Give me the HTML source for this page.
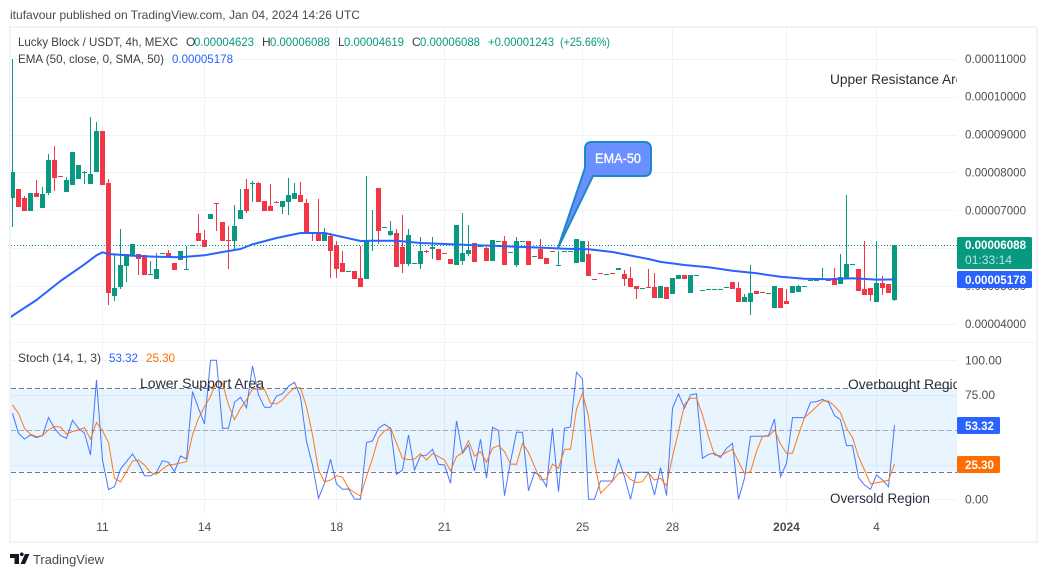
<!DOCTYPE html>
<html lang="en">
<head>
<meta charset="utf-8">
<title>Lucky Block / USDT chart</title>
<style>
html,body{margin:0;padding:0;background:#fff;width:1047px;height:577px;overflow:hidden}
svg{display:block;font-family:"Liberation Sans",sans-serif}
text{white-space:pre}
</style>
</head>
<body>
<svg id="chart" xmlns="http://www.w3.org/2000/svg" width="1047" height="577" viewBox="0 0 1047 577">
  <defs>
    <clipPath id="clip-price"><rect x="11" y="28" width="946" height="314"/></clipPath>
    <clipPath id="clip-stoch"><rect x="11" y="343" width="946" height="170"/></clipPath>
  </defs>
  <text x="10" y="19" font-size="12" fill="#4a4a4a" textLength="350" lengthAdjust="spacingAndGlyphs">itufavour published on TradingView.com, Jan 04, 2024 14:26 UTC</text>
  <rect x="10" y="27" width="1027" height="515" fill="#fff" stroke="#f0f3fa" stroke-width="2"/>
  <g id="grid"></g>
  <line x1="11" x2="1036" y1="342.5" y2="342.5" stroke="#f0f3fa" stroke-width="1"/>
  <g id="stoch-band"></g>
  <g id="candles" clip-path="url(#clip-price)"></g>
  <g id="ema" clip-path="url(#clip-price)"></g>
  <g id="last-line"></g>
  <g id="stoch-lines" clip-path="url(#clip-stoch)"></g>
  <g id="axis-labels"></g>

  <g>
    <path d="M592 142H644Q651 142 651 149V169Q651 176 644 176H593L558 248L585 168V149Q585 142 592 142Z" fill="#6a8fff" stroke="#1c87c9" stroke-width="2" stroke-linejoin="round"/>
    <text x="595" y="163" font-size="14" fill="#fff" stroke="#fff" stroke-width="0.3" textLength="46" lengthAdjust="spacingAndGlyphs">EMA-50</text>
  </g>

  <g clip-path="url(#clip-price)">
    <text x="830" y="84" font-size="13.5" fill="#2a2e39" textLength="141" lengthAdjust="spacingAndGlyphs">Upper Resistance Area</text>
  </g>
  <g clip-path="url(#clip-stoch)">
    <text x="140" y="388" font-size="13.5" fill="#2a2e39" textLength="124" lengthAdjust="spacingAndGlyphs">Lower Support Area</text>
    <text x="848" y="389" font-size="13.5" fill="#2a2e39" textLength="120" lengthAdjust="spacingAndGlyphs">Overbought Region</text>
    <text x="830" y="503" font-size="13.5" fill="#2a2e39" textLength="100" lengthAdjust="spacingAndGlyphs">Oversold Region</text>
  </g>

  <g font-size="12">
    <text x="18" y="46" fill="#3c4043" textLength="160" lengthAdjust="spacingAndGlyphs">Lucky Block / USDT, 4h, MEXC</text>
    <text x="186" y="46" fill="#3c4043">O</text>
    <text x="194" y="46" fill="#089981" textLength="60" lengthAdjust="spacingAndGlyphs">0.00004623</text>
    <text x="262" y="46" fill="#3c4043">H</text>
    <text x="270" y="46" fill="#089981" textLength="60" lengthAdjust="spacingAndGlyphs">0.00006088</text>
    <text x="338" y="46" fill="#3c4043">L</text>
    <text x="344" y="46" fill="#089981" textLength="60" lengthAdjust="spacingAndGlyphs">0.00004619</text>
    <text x="412" y="46" fill="#3c4043">C</text>
    <text x="420" y="46" fill="#089981" textLength="60" lengthAdjust="spacingAndGlyphs">0.00006088</text>
    <text x="488" y="46" fill="#089981" textLength="66" lengthAdjust="spacingAndGlyphs">+0.00001243</text>
    <text x="560" y="46" fill="#089981" textLength="50" lengthAdjust="spacingAndGlyphs">(+25.66%)</text>
    <text x="18" y="63" fill="#3c4043" textLength="146" lengthAdjust="spacingAndGlyphs">EMA (50, close, 0, SMA, 50)</text>
    <text x="172" y="63" fill="#2962ff" textLength="61" lengthAdjust="spacingAndGlyphs">0.00005178</text>
  </g>
  <g font-size="12">
    <text x="18" y="362" fill="#3c4043" textLength="83" lengthAdjust="spacingAndGlyphs">Stoch (14, 1, 3)</text>
    <text x="109" y="362" fill="#2962ff" textLength="29" lengthAdjust="spacingAndGlyphs">53.32</text>
    <text x="146" y="362" fill="#ff6d00" textLength="29" lengthAdjust="spacingAndGlyphs">25.30</text>
  </g>

  <g>
    <rect x="957" y="237" width="75" height="32" rx="1.5" fill="#089981"/>
    <text x="965" y="249" font-size="12" font-weight="bold" fill="#fff" textLength="61" lengthAdjust="spacingAndGlyphs">0.00006088</text>
    <text x="965" y="264" font-size="12" fill="#bfe3dc" textLength="47" lengthAdjust="spacingAndGlyphs">01:33:14</text>
  </g>
  <g>
    <rect x="957" y="271" width="75" height="17" rx="1.5" fill="#2962ff"/>
    <text x="965" y="284" font-size="12" font-weight="bold" fill="#fff" textLength="61" lengthAdjust="spacingAndGlyphs">0.00005178</text>
  </g>
  <g>
    <rect x="957" y="417" width="43" height="17" rx="1.5" fill="#2962ff"/>
    <text x="965" y="430" font-size="12" font-weight="bold" fill="#fff" textLength="29" lengthAdjust="spacingAndGlyphs">53.32</text>
  </g>
  <g>
    <rect x="957" y="456" width="43" height="17" rx="1.5" fill="#ff6d00"/>
    <text x="965" y="469" font-size="12" font-weight="bold" fill="#fff" textLength="29" lengthAdjust="spacingAndGlyphs">25.30</text>
  </g>

  <g>
    <path d="M10 554H19V564H14.5V558H10ZM21.8 556.2A1.9 1.9 0 1 0 21.79 556.2ZM25 554H29.5L25 564H20.5Z" fill="#131722"/>
    <text x="33" y="564" font-size="13" fill="#4a4a4a" textLength="71" lengthAdjust="spacingAndGlyphs">TradingView</text>
  </g>
</svg>
<script>
// Prices are expressed in units of 0.00000001 USDT.
const opens=[7336,7564,7327,6992,7459,7072,7459,8330,7899,7494,
7679,7828,8000,7696,8013,9096,7723,4740,4977,5532,
5822,5848,5822,5294,5188,5866,5866,5611,5690,5444,
6060,6403,6218,6772,7186,6693,6210,6192,6772,7564,
7710,7723,7248,7116,7221,7089,7221,7300,7406,7195,
6420,6403,6192,6324,6086,5611,5390,5400,5215,5188,
6192,7591,6553,6350,6403,6033,5584,5593,5584,5925,
5980,5980,5870,5716,5558,5664,5848,6139,6033,6007,
5664,6183,6192,5893,5558,6183,6192,5777,5980,5743,
5925,5540,5908,5908,5611,5637,5848,5180,5338,5302,
5338,5426,5320,5215,5004,4942,4977,4977,4687,4977,
4792,5188,5294,4819,5285,4880,4906,4906,4906,4960,
5109,4951,4581,4581,4872,4845,4801,4423,4951,4607,
4819,4845,4985,5150,5150,5162,5188,5188,5056,5215,
5565,5452,4924,4951,4581,5083,5056,4623];
const highs=[10996,7564,7380,7459,7802,7617,8488,8700,7899,7881,
8541,8198,8040,9465,9333,9096,7828,5822,6508,5848,
6112,5848,5822,5664,5866,5884,5954,5611,5928,6060,
6078,6904,6482,6904,7186,6693,6588,7142,7564,7828,
7776,7749,7248,7696,7248,7248,7855,7723,7749,7300,
6420,7300,6535,6394,6192,5928,5408,5400,6060,7908,
7010,7591,6570,6720,6508,6878,6508,5610,6297,5954,
6297,5980,5870,5716,6614,6931,6614,6139,6050,6033,
6218,6200,6324,5910,6297,6200,6192,5795,6244,5743,
5925,5928,5925,5925,6244,6192,6192,5180,5338,5320,
5338,5479,5426,5505,5004,4960,5452,5347,5004,4977,
5215,5294,5294,5294,5302,4897,4916,4916,4916,4972,
5109,5109,4792,5558,4872,4845,4810,5004,4951,4924,
5004,5030,5000,5162,5162,5479,5188,5479,5848,7406,
5582,5452,6192,4951,6192,5268,5056,6088];
const lows=[6570,7098,6992,6992,7353,7072,7406,7512,7881,7494,
7679,7828,7696,7696,8013,7670,4502,4608,4924,5109,
5822,5294,5294,5294,5188,5866,5760,5426,5690,5444,
6060,6192,6033,6772,6456,6192,5452,5954,6772,6931,
7221,7221,6984,6984,7195,6904,6878,7300,7221,6403,
6192,6192,6192,5215,5215,5373,5390,5188,4977,5188,
5928,6112,6553,6324,5505,5347,5532,5593,5452,5875,
5716,5690,5852,5584,5558,5558,5796,5637,6033,5664,
5664,6183,5558,5893,5505,6183,5558,5777,5716,5584,
5908,5540,5908,5908,5611,5637,5268,5160,5320,5302,
5320,5426,5004,4977,4660,4942,4960,4687,4687,4660,
4792,5188,5188,4819,5285,4880,4906,4906,4906,4960,
4924,4581,4581,4238,4792,4827,4801,4423,4423,4528,
4819,4845,4985,5150,5150,5162,5135,5030,5056,5215,
5565,4872,4766,4608,4581,4766,4819,4619];
const closes=[8013,7098,6992,7459,7353,7432,8330,7864,7881,7802,
8541,8198,8013,7960,9096,7670,4819,4951,5558,5848,
6112,5716,5294,5312,5452,5884,5760,5426,5928,5462,
6078,6192,6033,6904,7168,6192,6192,6588,7010,6984,
7730,7221,6984,6984,7200,7248,7406,7459,7221,6403,
6403,6192,6403,5928,5452,5373,5408,5188,4977,6192,
6210,6456,6570,6456,5505,5584,6350,5610,5928,5908,
6033,5690,5852,5584,6614,5875,5954,5637,6050,5664,
6218,6200,5558,5910,6192,6200,5558,5795,5716,5584,
5908,5558,5925,5925,6244,6192,5268,5160,5320,5320,
5320,5479,5188,4977,4924,4960,4960,4687,5004,4660,
5215,5294,5188,5294,5302,4897,4916,4916,4916,4972,
4924,4581,4713,4819,4792,4827,4810,5004,4423,4528,
5004,5004,5000,5162,5162,5188,5135,5030,5241,5584,
5582,4872,4766,4766,5083,4951,4819,6088];
const emaBars=[-1,0,4,8,12,14,15,16,20,24,28,32,35,38,40,44,48,52,56,58,60,64,68,72,76,80,84,88,92,96,100,104,106,108,112,116,120,124,128,132,136,140,144,147];
const emaValues=[4088,4220,4634,5136,5576,5813,5892,5848,5804,5778,5760,5813,5901,5980,6104,6271,6403,6403,6262,6192,6200,6200,6139,6112,6086,6068,6042,6016,5989,5972,5901,5778,5716,5640,5558,5496,5408,5338,5250,5197,5180,5206,5171,5178];
const stochK=[61.9,47.5,43.4,46.3,44.4,45.8,58.8,51.1,45.8,43.9,
56.8,51.1,47.5,31.9,85.9,28.3,7.0,9.1,21.8,27.1,
32.6,25.9,17.0,16.8,19.4,27.8,26.6,19.9,31.2,29.0,
77.5,65.5,54.2,100,100,51.1,51.1,69.8,73.4,65.9,
95.9,75.1,66.2,66.2,74.3,76.0,81.3,84.2,73.9,41.5,
24.7,0.7,11.5,28.8,11.0,7.2,7.4,0.2,0,40.8,
42,51.1,54,51.1,18,21.1,46.3,21.1,31.4,31.7,
36,25.2,24.7,11.5,56.4,33.1,39.1,20.4,43.2,15.1,
51.8,49.4,2.6,27.1,48.2,48.2,6.2,19.4,16.8,9.1,
51.1,5.5,51.1,52,91.4,86.6,0,0,13.2,13.2,
13.2,28.8,16.3,0,19.4,19.4,19.4,3.1,22.8,2.6,
65.5,75.8,65.5,75.1,76,29.5,32.4,33.1,30,36.7,
40.3,0,15.1,45.3,45.3,45.3,45.8,57.8,16.3,25.9,
58.8,58.8,58.8,69.8,70.3,71.9,69.8,60.2,57.3,38.6,
38.6,15.6,10.3,7.2,17.5,13.9,9.1,53.32];
const stochD=[67.9,61.9,51.1,46.8,45.1,45.8,49.9,52.3,52,47,
48.7,49.9,51.6,43.2,55.2,49.2,40.8,15.1,12.5,19.9,
27.6,28.3,24.7,19.4,18,21.8,24.7,25.2,26.1,27.1,
46.3,58.3,66.7,73.9,84.7,83.5,67.9,57.3,65.5,71.5,
79.4,79.1,79.1,69.1,68.6,71.5,76.3,80.3,80.3,66.7,
46.3,21.1,12.5,13.9,17,15.8,7.9,4.8,2.4,16.3,
29.5,44.4,49.2,51.6,40.3,29.5,28.5,29,32.9,28.3,
32.9,30.7,28.3,20.4,30.7,33.6,42.2,30.9,34.3,26.6,
36.7,38.6,34.3,25.4,25.2,40.3,33.8,23.5,13.9,14.6,
25.4,22.3,36,36,65,76.3,59.5,27.1,4.3,8.6,
13.2,18.7,19.2,14.4,12,12.7,19.2,13.9,15.1,9.8,
30.7,48.7,68.3,72.7,72.7,60.7,45.1,31.9,31.2,33.8,
36,27.1,18.5,19.9,34.3,45.3,45.3,49.9,39.8,33.1,
33.1,46.3,58.8,62.6,66.7,70.7,70.7,67.1,62.3,51.1,
44.6,30.7,21.1,11,12,12.7,13.7,25.3];
const priceTicks=[11000,10000,9000,8000,7000,6000,5000,4000];
const priceTickLabels=["0.00011000","0.00010000","0.00009000","0.00008000","0.00007000","0.00006000","0.00005000","0.00004000"];
const stochTicks=[100,75,50,25,0];
const stochTickLabels=["100.00","75.00","50.00","25.00","0.00"];
const stochBands=[80,50,20];
const stochBandColors=["#787b86","#a8abb3","#787b86"];
const timeTickBars=[15,32,54,72,95,110,129,144];
const timeTickLabels=["11","14","18","21","25","28","2024","4"];
const lastPrice=6088;

const NS='http://www.w3.org/2000/svg';
function xBar(i){return 12.5+6*i;}
function yPrice(v){return 324-(v-4000)/26.4;}
function yStoch(v){return 499.3-v*1.39;}
function mk(parent,tag,attrs){
  const el=document.createElementNS(NS,tag);
  for(const k in attrs){el.setAttribute(k,attrs[k]);}
  parent.appendChild(el);
  return el;
}
const grid=document.getElementById('grid');
const axisLabels=document.getElementById('axis-labels');
const candles=document.getElementById('candles');
const emaG=document.getElementById('ema');
const bandG=document.getElementById('stoch-band');
const stochG=document.getElementById('stoch-lines');
const lastG=document.getElementById('last-line');

priceTicks.forEach(function(t,i){
  const y=Math.round(yPrice(t))+0.5;
  const g=mk(grid,'line',{x1:11,x2:957,y1:y,y2:y,stroke:'#f0f3fa','stroke-width':1});
  
  
  const l=mk(axisLabels,'text',{x:965,y:yPrice(t)+4,'font-size':12,fill:'#4a4e57',textLength:61,lengthAdjust:'spacingAndGlyphs'});
  
  
  l.textContent=priceTickLabels[i];
});
stochTicks.forEach(function(t,i){
  const y=Math.round(yStoch(t))+0.5;
  const g=mk(grid,'line',{x1:11,x2:957,y1:y,y2:y,stroke:'#f0f3fa','stroke-width':1});
  
  
  const l=mk(axisLabels,'text',{x:965,y:yStoch(t)+4,'font-size':12,fill:'#4a4e57'});
  
  
  l.textContent=stochTickLabels[i];
});
timeTickBars.forEach(function(b,i){
  const x=xBar(b);
  const g=mk(grid,'line',{x1:x,x2:x,y1:28,y2:513,stroke:'#f0f3fa','stroke-width':1});
  
  
  const attrs={x:xBar(b),y:531,'font-size':12,fill:'#4a4e57','text-anchor':'middle'};
  if(timeTickLabels[i]==='2024'){attrs['font-weight']='bold';}
  const l=mk(axisLabels,'text',attrs);
  
  
  l.textContent=timeTickLabels[i];
});

const bandRect=mk(bandG,'rect',{x:11,width:946,y:yStoch(80),height:yStoch(20)-yStoch(80),fill:'#2196f3','fill-opacity':0.1});


stochBands.forEach(function(b,i){
  const y=Math.round(yStoch(b))+0.5;
  const l=mk(bandG,'line',{x1:11,x2:957,y1:y,y2:y,stroke:stochBandColors[i],'stroke-width':1,'stroke-dasharray':'5 3'});
  
  
});

opens.forEach(function(o,i){
  const c=closes[i];
  const up=c>=o;
  const col=up?'#089981':'#f23645';
  const x=xBar(i)-0.5;
  const top=Math.round(yPrice(Math.max(o,c)));
  const bot=Math.round(yPrice(Math.min(o,c)));
  const wTop=Math.round(yPrice(highs[i]));
  const wBot=Math.round(yPrice(lows[i]));
  const wick=mk(candles,'rect',{x:x,width:1,y:wTop,height:Math.max(1,wBot-wTop),fill:col,'shape-rendering':'crispEdges'});
  
  
  const body=mk(candles,'rect',{x:x-2,width:5,y:top,height:Math.max(1,bot-top),fill:col,'shape-rendering':'crispEdges'});
  
  
});

function pts(arr,xf,yf){return arr.map(function(v,i){return xf(i).toFixed(1)+','+yf(v).toFixed(1);}).join(' ');}

const emaLine=mk(emaG,'polyline',{points:pts(emaValues,function(i){return xBar(emaBars[i]);},yPrice),fill:'none',stroke:'#2962ff','stroke-width':2,'stroke-linejoin':'round'});



const lastY=Math.round(yPrice(lastPrice))+0.5;
const lastLn=mk(lastG,'line',{x1:11,x2:957,y1:lastY,y2:lastY,stroke:'#089981','stroke-width':1,'stroke-dasharray':'1 2'});



const kLine=mk(stochG,'polyline',{points:pts(stochK,function(i){return xBar(i);},yStoch),fill:'none',stroke:'#2962ff','stroke-width':1,'stroke-opacity':0.85});


const dLine=mk(stochG,'polyline',{points:pts(stochD,function(i){return xBar(i);},yStoch),fill:'none',stroke:'#ff6d00','stroke-width':1,'stroke-opacity':0.9});


</script>
</body>
</html>
